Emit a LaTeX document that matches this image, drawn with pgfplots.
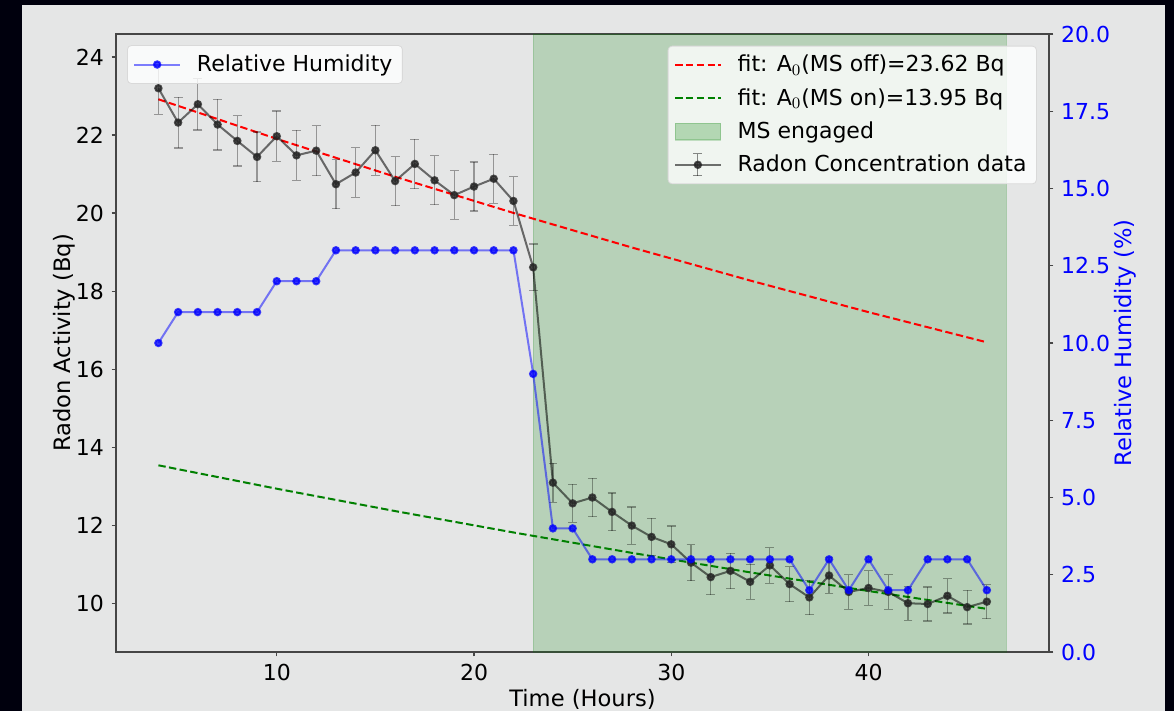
\documentclass[border=0pt]{standalone}
\usepackage{pgfplots}
\pgfplotsset{compat=1.18}
\usepackage{pgfplotstable}
\usepackage{fontspec}
\setmainfont{DejaVu Sans}
\definecolor{bgc}{RGB}{229,230,230}
\definecolor{mplgreen}{RGB}{0,128,0}
\definecolor{spinec}{RGB}{70,70,70}

\pgfplotstableread{
x y err
4 23.20 0.665
5 22.32 0.652
6 22.79 0.659
7 22.27 0.651
8 21.85 0.645
9 21.44 0.639
10 21.97 0.647
11 21.48 0.640
12 21.60 0.641
13 20.74 0.628
14 21.04 0.633
15 21.61 0.642
16 20.82 0.630
17 21.26 0.636
18 20.84 0.630
19 20.46 0.624
20 20.68 0.628
21 20.88 0.631
22 20.31 0.622
23 18.61 0.595
24 13.09 0.499
25 12.56 0.489
26 12.71 0.492
27 12.34 0.485
28 11.99 0.478
29 11.70 0.472
30 11.51 0.468
31 11.04 0.459
32 10.67 0.451
33 10.83 0.454
34 10.55 0.448
35 10.97 0.457
36 10.49 0.447
37 10.15 0.440
38 10.71 0.452
39 10.29 0.443
40 10.39 0.445
41 10.29 0.443
42 10.00 0.436
43 9.98 0.436
44 10.19 0.441
45 9.90 0.434
46 10.04 0.437
}\radon

\pgfplotstableread{
x h
4 10
5 11
6 11
7 11
8 11
9 11
10 12
11 12
12 12
13 13
14 13
15 13
16 13
17 13
18 13
19 13
20 13
21 13
22 13
23 9
24 4
25 4
26 3
27 3
28 3
29 3
30 3
31 3
32 3
33 3
34 3
35 3
36 3
37 2
38 3
39 2
40 3
41 2
42 2
43 3
44 3
45 3
46 2
}\humid

\pgfplotstableread{
x off on
4 22.917 13.535
10 21.902 12.935
16 20.931 12.362
22 20.004 11.814
28 19.118 11.291
34 18.271 10.791
40 17.461 10.313
46 16.688 9.856
}\fits

\begin{document}
\fontsize{11}{13}\selectfont
\begin{tikzpicture}
\useasboundingbox (0,0) rectangle (587pt,-355.5pt);
\fill[black!95!blue] (0,0) rectangle (587pt,-355.5pt);
\fill[bgc] (11pt,-2.5pt) rectangle (582.5pt,-355.5pt);

\pgfplotsset{
  base/.style={
    at={(58pt,-326pt)}, anchor=south west,
    scale only axis, width=466.5pt, height=309pt,
    xmin=1.85, xmax=49.15,
    tick align=outside, major tick length=2.2pt,
    every tick/.style={spinec, line width=0.6pt},
    axis line style={spinec, line width=0.7pt},
    /pgf/number format/assume math mode=true,
    tick label style={font=\fontsize{11}{13}\selectfont},
    label style={font=\fontsize{11.3}{13}\selectfont},
    legend style={font=\fontsize{11}{13}\selectfont, fill=white, fill opacity=0.8, text opacity=1,
      draw=black!15, rounded corners=2pt, inner xsep=3pt, inner ysep=2.5pt,
      row sep=2.6pt, /tikz/every odd column/.append style={column sep=6pt}},
    legend cell align=left,
    legend image code/.code={\draw[mark repeat=2,mark phase=2,#1] plot coordinates {(0cm,0cm) (0.4cm,0cm) (0.8cm,0cm)};},
  }
}

\begin{axis}[base,
  ymin=8.75, ymax=24.59,
  xtick={10,20,30,40}, ytick={10,12,14,16,18,20,22,24},
  xtick pos=lower, ytick pos=left,
  xlabel={Time (Hours)}, ylabel={Radon Activity (Bq)},
  xlabel style={yshift=3.5pt},
  ylabel style={yshift=-7pt},
  legend style={at={(0.987,0.981)}, anchor=north east},
]
\addplot[fill=mplgreen, fill opacity=0.2, draw=mplgreen, draw opacity=0.15, forget plot]
  coordinates {(23,8.75) (23,24.59) (47,24.59) (47,8.75) (23,8.75)};
\addplot[red, line width=1pt, dash pattern=on 3.7pt off 1.7pt] table[x=x, y=off] {\fits};
\addlegendentry{fit: A$_0$(MS off)=23.62 Bq}
\addplot[mplgreen, line width=1pt, dash pattern=on 3.7pt off 1.7pt] table[x=x, y=on] {\fits};
\addlegendentry{fit: A$_0$(MS on)=13.95 Bq}
\addlegendimage{legend image code/.code={
    \path[sharp corners, fill=mplgreen, fill opacity=0.25, draw=mplgreen, draw opacity=0.2, line width=0.6pt]
      (0cm,-4.2pt) rectangle (0.8cm,4.2pt);}}
\addlegendentry{MS engaged}
\addplot[black, draw opacity=0.55, line width=1pt,
  mark=*, mark size=1.6pt, mark options={draw opacity=0.8, fill opacity=0.8, fill=black!85, draw=black!85},
  legend image code/.code={
    \draw[sharp corners, black, draw opacity=0.55, line width=1pt] (0cm,0cm) -- (0.8cm,0cm);
    \draw[sharp corners, black, opacity=0.45, line width=0.6pt] (0.4cm,-5.5pt) -- (0.4cm,5.5pt);
    \draw[sharp corners, black, opacity=0.45, line width=0.6pt] (0.4cm-2.2pt,-5.5pt) -- (0.4cm+2.2pt,-5.5pt);
    \draw[sharp corners, black, opacity=0.45, line width=0.6pt] (0.4cm-2.2pt,5.5pt) -- (0.4cm+2.2pt,5.5pt);
    \fill[black!85, opacity=0.8] (0.4cm,0cm) circle (1.6pt);
  },
  error bars/.cd, y dir=both, y explicit,
  error bar style={black, opacity=0.35, line width=0.6pt},
  error mark options={rotate=90, mark size=2.2pt, black, opacity=0.35, line width=0.6pt},
  ]
  table[x=x, y=y, y error=err] {\radon};
\addlegendentry{Radon Concentration data}
\end{axis}

\begin{axis}[base,
  ymin=0, ymax=20,
  axis x line=none, axis y line*=right,
  ytick={0,2.5,...,20},
  yticklabel style={blue, /pgf/number format/.cd, fixed, fixed zerofill, precision=1},
  ylabel={Relative Humidity (\%)}, ylabel style={blue, yshift=5.5pt},
  legend style={at={(0.0118,0.982)}, anchor=north west},
]
\addplot[blue, draw opacity=0.5, line width=1pt,
  mark=*, mark size=1.6pt, mark options={draw opacity=0.75, fill opacity=0.75, fill=blue, draw=blue}]
  table[x=x, y=h] {\humid};
\addlegendentry{Relative Humidity}
\end{axis}
\end{tikzpicture}
\end{document}
